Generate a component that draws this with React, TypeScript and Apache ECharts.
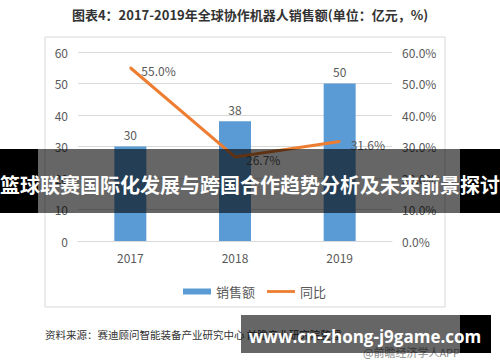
import React, { useEffect, useRef } from "react";
import * as echarts from "echarts";

const categories = ["2017", "2018", "2019"];
const salesValues = [30, 38, 50];
const growthValues = [55.0, 26.7, 31.6];
const leftTicks = { min: 0, max: 60, interval: 10 };
const rightTicks = { min: 0, max: 60, interval: 10 };

const titleText = "图表4：2017-2019年全球协作机器人销售额(单位：亿元，%)";
const sourceText = "资料来源：赛迪顾问智能装备产业研究中心 前瞻产业研究院整理";
const creditText = "@前瞻经济学人APP";
const bannerText = "篮球联赛国际化发展与跨国合作趋势分析及未来前景探讨";
const urlText = "www.cn-zhong-j9game.com";

const FONT = "'Noto Sans CJK SC', 'Noto Sans', sans-serif";

export default function App() {
  const ref = useRef<HTMLDivElement>(null);
  useEffect(() => {
    if (!ref.current) return;
    const chart = echarts.init(ref.current, null, { renderer: "svg" });
    chart.setOption({
      animation: false,
      backgroundColor: "#ffffff",
      textStyle: { fontFamily: FONT },
      grid: { left: 78, right: 108, top: 52, bottom: 121 },
      legend: {
        left: 178,
        top: 280,
        itemWidth: 28,
        itemHeight: 6,
        itemGap: 12,
        textStyle: { color: "#595959", fontSize: 13, fontFamily: FONT },
        data: [
          { name: "销售额", icon: "rect" },
          { name: "同比", icon: "path://M0,0h30v3h-30z" },
        ],
      },
      xAxis: {
        type: "category",
        data: categories,
        axisLine: { lineStyle: { color: "#d9d9d9" } },
        axisTick: { show: false },
        axisLabel: { color: "#595959", fontSize: 12, margin: 10 },
      },
      yAxis: [
        {
          type: "value",
          min: leftTicks.min,
          max: leftTicks.max,
          interval: leftTicks.interval,
          axisLine: { show: false },
          axisTick: { show: false },
          axisLabel: { color: "#595959", fontSize: 12, margin: 10 },
          splitLine: { lineStyle: { color: "#d9d9d9" } },
        },
        {
          type: "value",
          min: rightTicks.min,
          max: rightTicks.max,
          interval: rightTicks.interval,
          axisLine: { show: false },
          axisTick: { show: false },
          axisLabel: {
            color: "#595959",
            fontSize: 12,
            margin: 10,
            formatter: (v: number) => v.toFixed(1) + "%",
          },
          splitLine: { show: false },
        },
      ],
      series: [
        {
          name: "销售额",
          type: "bar",
          data: salesValues,
          barWidth: 32,
          itemStyle: { color: "#5b9bd5" },
          label: { show: true, position: "top", color: "#595959", fontSize: 12, distance: 6 },
        },
        {
          name: "同比",
          type: "line",
          yAxisIndex: 1,
          data: growthValues,
          symbol: "circle",
          symbolSize: 2,
          showSymbol: true,
          lineStyle: { color: "#ed7d31", width: 3 },
          itemStyle: { color: "#ed7d31" },
          label: {
            show: true,
            position: "right",
            distance: 10,
            offset: [0, 3],
            color: "#595959",
            fontSize: 12,
            formatter: (p: any) => Number(p.value).toFixed(1) + "%",
          },
        },
      ],
      graphic: [
        {
          type: "text",
          left: "center",
          top: 8,
          style: { text: titleText, fill: "#333333", font: "bold 13px " + FONT },
        },
        {
          type: "rect",
          shape: { x: 45, y: 37, width: 400, height: 270 },
          style: { fill: "none", stroke: "#d9d9d9", lineWidth: 1 },
          silent: true,
        },
        {
          type: "text",
          x: 45,
          y: 329,
          style: { text: sourceText, fill: "#333333", font: "10.5px " + FONT },
        },
        {
          type: "text",
          x: 363,
          y: 346,
          style: { text: creditText, fill: "#8c8c8c", font: "11px " + FONT },
        },
        {
          type: "rect",
          z: 100,
          shape: { x: 0, y: 149, width: 38, height: 64 },
          style: { fill: "#000000" },
        },
        {
          type: "rect",
          z: 100,
          shape: { x: 38, y: 149, width: 422, height: 64 },
          style: { fill: "rgba(0,0,0,0.6)" },
        },
        {
          type: "rect",
          z: 100,
          shape: { x: 460, y: 149, width: 40, height: 64 },
          style: { fill: "#000000" },
        },
        {
          type: "text",
          z: 101,
          x: 250,
          y: 184,
          style: {
            text: bannerText,
            fill: "#ffffff",
            font: "bold 20px " + FONT,
            align: "center",
            verticalAlign: "middle",
          },
        },
        {
          type: "rect",
          z: 100,
          shape: { x: 241, y: 315, width: 219, height: 38 },
          style: { fill: "rgba(0,0,0,0.6)" },
        },
        {
          type: "rect",
          z: 100,
          shape: { x: 460, y: 315, width: 31, height: 38 },
          style: { fill: "#000000" },
        },
        {
          type: "text",
          z: 101,
          x: 365,
          y: 336,
          style: {
            text: urlText,
            fill: "#ffffff",
            font: "bold 17px 'Open Sans', 'Noto Sans', sans-serif",
            align: "center",
            verticalAlign: "middle",
          },
        },
      ],
    });
    return () => chart.dispose();
  }, []);
  return (
    <div
      ref={ref}
      style={{ position: "absolute", left: 0, top: 0, width: 500, height: 362, background: "#fff" }}
    />
  );
}
